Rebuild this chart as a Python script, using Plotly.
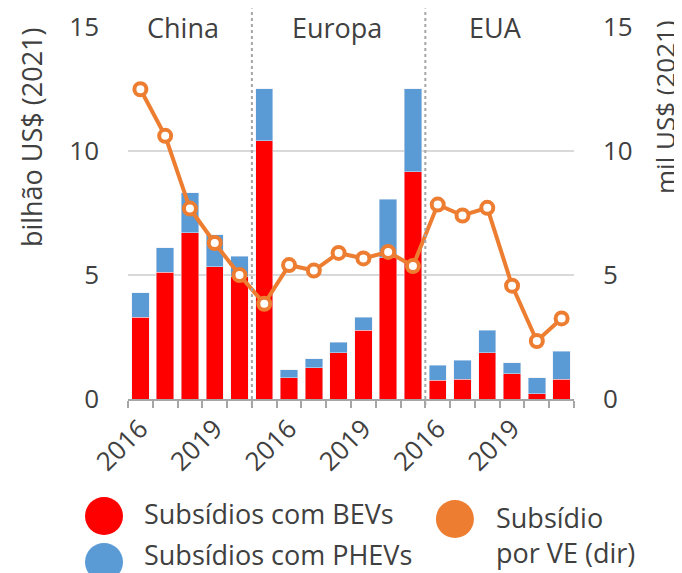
import plotly.graph_objects as go

regions = ["China", "Europa", "EUA"]
years = ["2016", "2017", "2018", "2019", "2020", "2021"]
year_labels = ["2016", "", "", "2019", "", ""]

bev = [3.29, 5.11, 6.71, 5.34, 4.92, 10.42,
       0.86, 1.27, 1.87, 2.78, 5.70, 9.16,
       0.75, 0.80, 1.87, 1.02, 0.22, 0.80]
total = [4.29, 6.10, 8.32, 6.62, 5.75, 12.51,
         1.17, 1.62, 2.29, 3.30, 8.06, 12.51,
         1.37, 1.56, 2.78, 1.46, 0.85, 1.93]
phev = [round(t - b, 2) for t, b in zip(total, bev)]
per_ev = [12.49, 10.61, 7.68, 6.29, 5.00, 3.84,
          5.40, 5.18, 5.89, 5.67, 5.93, 5.36,
          7.84, 7.40, 7.71, 4.57, 2.34, 3.25]

n = len(bev)
xpos = list(range(n))
ticktext = year_labels * 3

RED = "#FF0000"
BLUE = "#5B9BD5"
ORANGE = "#ED7D31"
TXT = "#404040"
FONT = "Open Sans"
FS = 26
FT = 27

fig = go.Figure()
fig.add_trace(go.Bar(x=xpos, y=bev, marker_color=RED, name="Subsídios com BEVs",
                     width=0.7, showlegend=False))
fig.add_trace(go.Bar(x=xpos, y=phev, marker_color=BLUE, name="Subsídios com PHEVs",
                     width=0.7, showlegend=False))
fig.add_trace(go.Scatter(x=xpos, y=per_ev, yaxis="y2", mode="lines+markers",
                         line=dict(color=ORANGE, width=4),
                         marker=dict(size=12, color="white", line=dict(color=ORANGE, width=4)),
                         name="Subsídio por VE (dir)", showlegend=False))

# page body adds an 8px margin, so the figure is 8px smaller and margins shifted
fig.update_layout(
    barmode="stack",
    width=674, height=565,
    margin=dict(l=120, r=108, t=19, b=174),
    paper_bgcolor="white", plot_bgcolor="white",
    font=dict(family=FONT, size=FS, color=TXT),
    xaxis=dict(range=[-0.5, n - 0.5], tickmode="array", tickvals=xpos, ticktext=ticktext,
               tickangle=-45, ticks="", showgrid=False, zeroline=False, automargin=False,
               showline=True, linecolor="#A6A6A6", linewidth=2,
               ticklabelstandoff=2,
               minor=dict(tickmode="array", tickvals=[i - 0.5 for i in range(n + 1)],
                          ticks="outside", ticklen=7, tickwidth=2, tickcolor="#A6A6A6",
                          showgrid=False),
               tickfont=dict(size=FS, color=TXT)),
    yaxis=dict(range=[0, 15], tickvals=[0, 5, 10, 15], showgrid=True, gridcolor="#D9D9D9",
               gridwidth=2, zeroline=False, showline=False, ticks="", automargin=False,
               ticklabelstandoff=28, tickfont=dict(size=FS, color=TXT)),
    yaxis2=dict(range=[0, 15], tickvals=[0, 5, 10, 15], overlaying="y", side="right",
                showgrid=False, zeroline=False, showline=False, ticks="", automargin=False,
                ticklabelstandoff=28, tickfont=dict(size=FS, color=TXT)),
)

# region dividers
for xd in [4.5, 11.5]:
    fig.add_shape(type="line", xref="x", yref="paper", x0=xd, x1=xd, y0=-0.016, y1=1.05,
                  line=dict(color="#A6A6A6", width=2, dash="dot"), layer="above")

# region labels
for name, xc in zip(regions, [1.7, 7.95, 14.35]):
    fig.add_annotation(text=name, x=xc, y=15, xref="x", yref="y", showarrow=False,
                       xanchor="center", yanchor="middle", font=dict(size=FT, color=TXT))

# axis titles
fig.add_annotation(text="bilhão US$ (2021)", xref="paper", yref="paper", x=0, xshift=-97,
                   y=0.704, textangle=-90, showarrow=False, xanchor="center", yanchor="middle",
                   font=dict(size=FT, color=TXT))
fig.add_annotation(text="mil US$ (2021)", xref="paper", yref="paper", x=1, xshift=91,
                   y=0.785, textangle=-90, showarrow=False, xanchor="center", yanchor="middle",
                   font=dict(size=26, color=TXT))

# legend
legend_items = [
    ("Subsídios com BEVs", RED, -0.0538, -0.3145, 0.0314, -0.309),
    ("Subsídios com PHEVs", BLUE, -0.0538, -0.438, 0.0314, -0.418),
    ("Subsídio<br>por VE (dir)", ORANGE, 0.733, -0.3226, 0.8206, -0.366),
]
for text, col, cx, cy, tx, ty in legend_items:
    fig.add_shape(type="circle", xref="paper", yref="paper", xsizemode="pixel", ysizemode="pixel",
                  xanchor=cx, yanchor=cy, x0=-19, x1=19, y0=-19, y1=19,
                  fillcolor=col, line=dict(width=0))
    fig.add_annotation(text=text, xref="paper", yref="paper", x=tx, y=ty, showarrow=False,
                       xanchor="left", yanchor="middle", align="left",
                       font=dict(size=FT, color=TXT))

fig.write_html("out.html")
